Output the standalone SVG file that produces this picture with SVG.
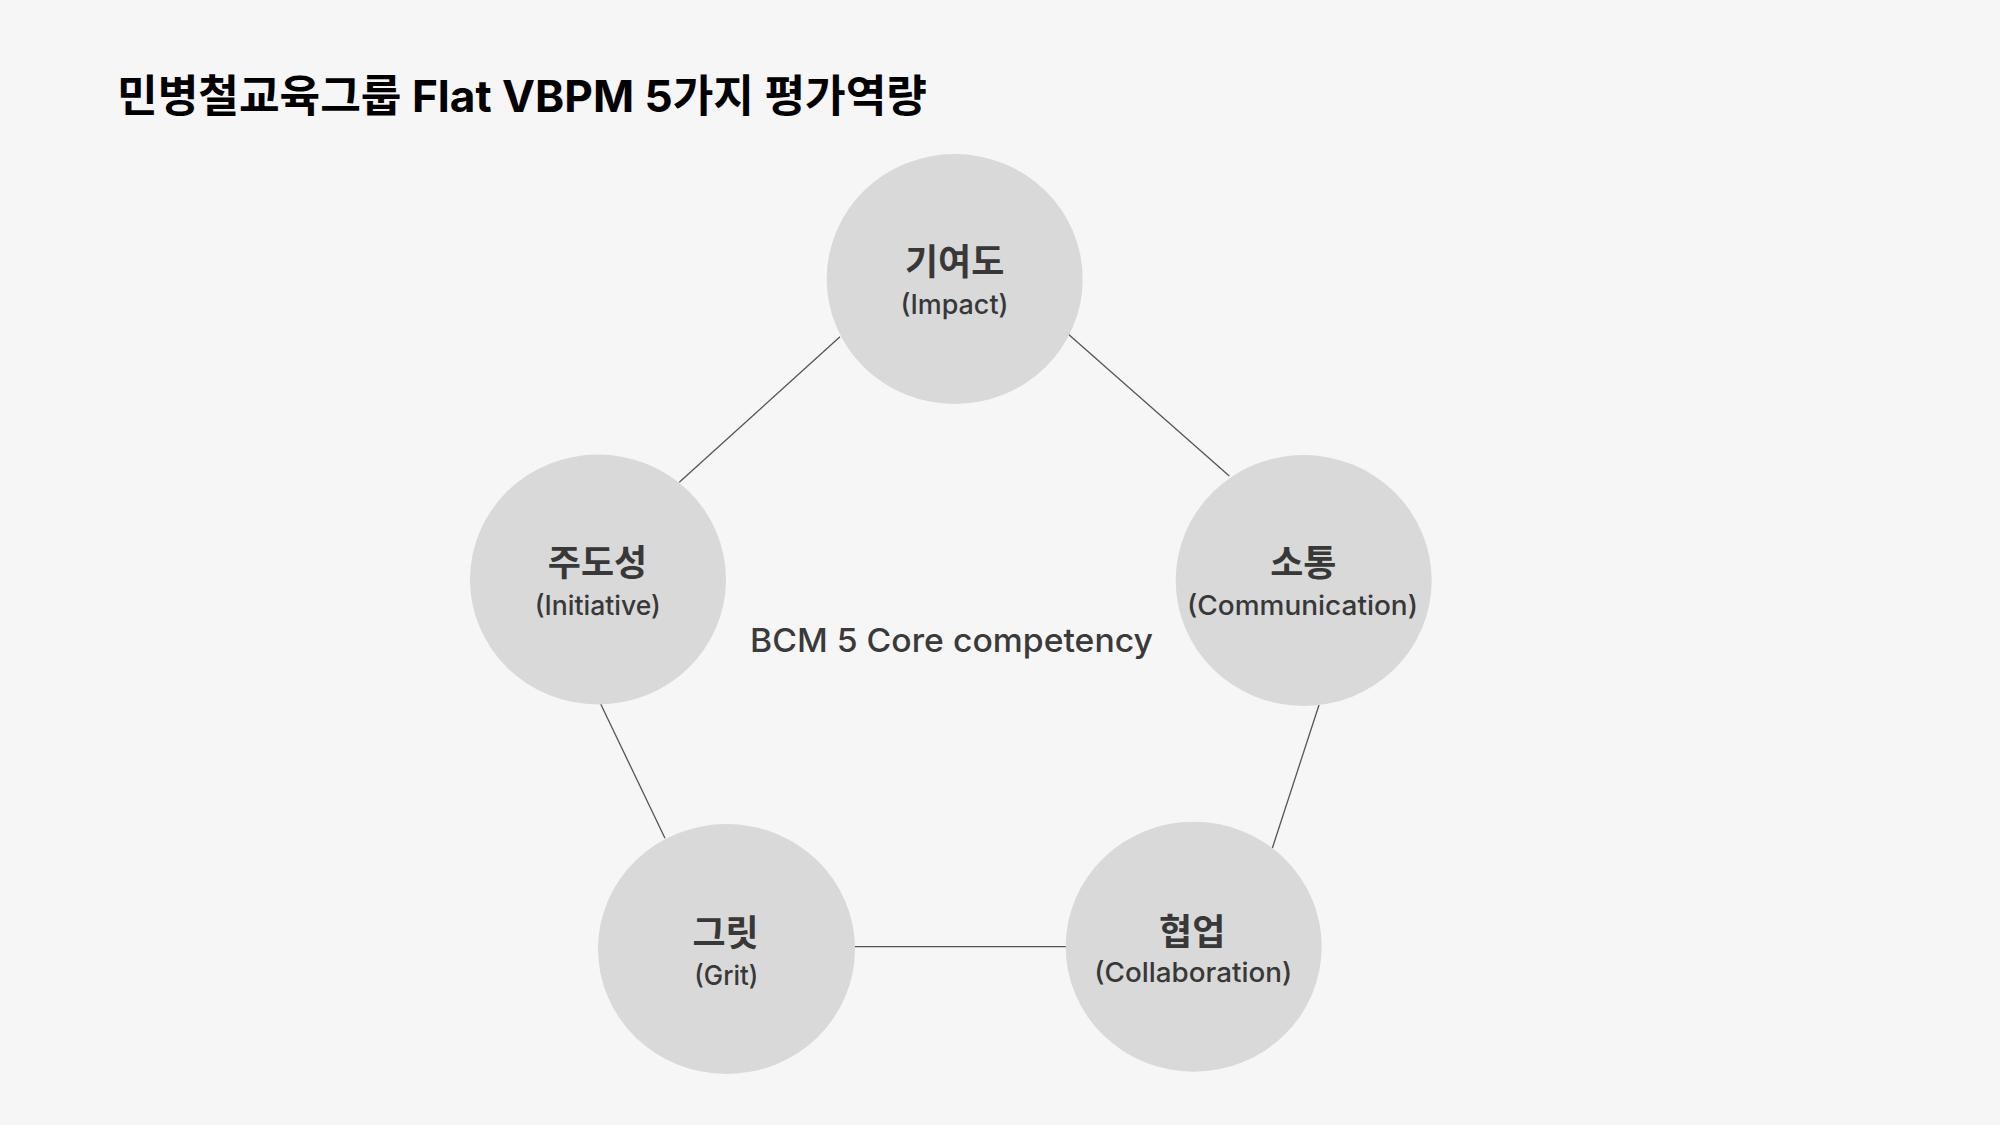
<svg xmlns="http://www.w3.org/2000/svg" width="2000" height="1125" viewBox="0 0 2000 1125">
<style>
.bg{fill:#f6f6f6}
.node{fill:#d9d9d9}
.conn{stroke:#555555;stroke-width:1.3;fill:none}
.ko{font-family:"Noto Sans CJK KR",sans-serif;font-weight:700;font-size:36px;fill:#383838;text-anchor:middle}
.en{font-family:Inter,"Liberation Sans",sans-serif;font-weight:500;font-size:27px;fill:#383838;text-anchor:middle}
.title{font-family:Inter,"Noto Sans CJK KR",sans-serif;font-weight:700;font-size:44px;fill:#000000}
.center{font-family:Inter,"Liberation Sans",sans-serif;font-weight:500;font-size:33px;fill:#3a3a3a}
</style>
<rect class="bg" x="0" y="0" width="2000" height="1125"/>
<text class="title" x="117" y="112" textLength="810" lengthAdjust="spacingAndGlyphs">민병철교육그룹 Flat VBPM 5가지 평가역량</text>
<g id="connectors">
<line class="conn" x1="840" y1="336.7" x2="679.3" y2="482.3"/>
<line class="conn" x1="1066.7" y1="332.7" x2="1229.3" y2="476"/>
<line class="conn" x1="1319" y1="705" x2="1272.3" y2="848.3"/>
<line class="conn" x1="600.7" y1="704" x2="665" y2="838.3"/>
<line class="conn" x1="855" y1="946.7" x2="1066" y2="946.7"/>
</g>
<g id="impact">
<ellipse class="node" cx="954.7" cy="279" rx="128" ry="125"/>
<text class="ko" x="954.7" y="275">기여도</text>
<text class="en" x="954.5" y="314" textLength="108" lengthAdjust="spacingAndGlyphs">(Impact)</text>
</g>
<g id="initiative">
<ellipse class="node" cx="598" cy="579.5" rx="128" ry="125"/>
<text class="ko" x="597.5" y="576">주도성</text>
<text class="en" x="597.8" y="615" textLength="126" lengthAdjust="spacingAndGlyphs">(Initiative)</text>
</g>
<g id="communication">
<ellipse class="node" cx="1303.7" cy="580.5" rx="128" ry="125.5"/>
<text class="ko" x="1303.3" y="576">소통</text>
<text class="en" x="1302.5" y="615" textLength="231" lengthAdjust="spacingAndGlyphs">(Communication)</text>
</g>
<g id="grit">
<ellipse class="node" cx="726.5" cy="949" rx="128.5" ry="125"/>
<text class="ko" x="725.5" y="946">그릿</text>
<text class="en" x="726.3" y="985" textLength="64" lengthAdjust="spacingAndGlyphs">(Grit)</text>
</g>
<g id="collaboration">
<ellipse class="node" cx="1193.7" cy="946.7" rx="128" ry="125"/>
<text class="ko" x="1192.2" y="945">협업</text>
<text class="en" x="1193.3" y="982" textLength="198" lengthAdjust="spacingAndGlyphs">(Collaboration)</text>
</g>
<g id="core-label">
<text class="center" x="750" y="652" textLength="403" lengthAdjust="spacingAndGlyphs">BCM 5 Core competency</text>
</g>
</svg>
